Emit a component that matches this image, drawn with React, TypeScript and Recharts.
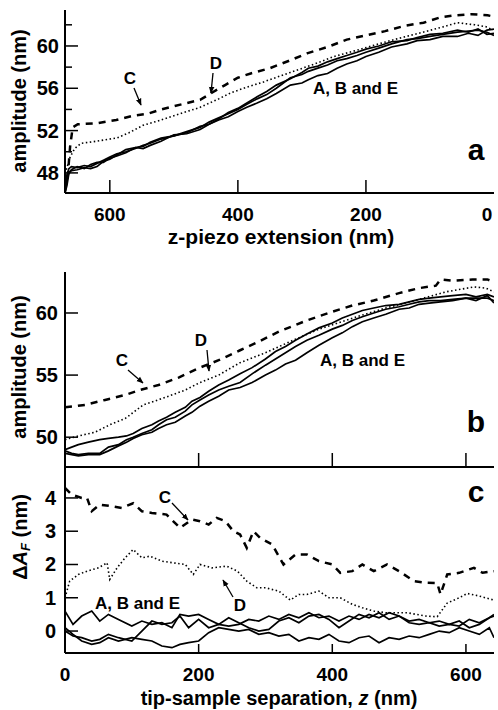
import { LineChart, Line, XAxis, YAxis } from "recharts"

const FONT = '"Liberation Sans", Arial, Helvetica, sans-serif'

// panel a: amplitude vs z-piezo extension (nm)
const aDashX = [666, 662, 658, 650, 620, 590, 564, 540, 520, 500, 480, 459, 440, 420, 400, 380, 350, 320, 292, 260, 230, 200, 170, 140, 110, 84, 60, 35, 10, 2]
const aDashY = [47.5, 50.5, 52.3, 52.6, 52.7, 53.0, 53.4, 53.6, 54.0, 54.3, 54.6, 54.9, 55.6, 56.3, 57.0, 57.4, 57.9, 58.6, 59.3, 59.9, 60.6, 61.0, 61.4, 61.9, 62.2, 62.7, 62.9, 63.0, 62.9, 62.8]
const aDotX = [668, 662, 655, 645, 620, 600, 589, 570, 548, 520, 490, 459, 430, 410, 386, 360, 318, 280, 250, 214, 180, 150, 111, 80, 57, 30, 11, 2]
const aDotY = [48.3, 49.5, 50.3, 50.8, 51.0, 51.2, 51.3, 51.8, 52.5, 53.0, 53.6, 54.2, 55.0, 55.6, 56.1, 56.6, 57.5, 58.3, 59.0, 59.6, 60.2, 60.7, 61.3, 61.8, 62.2, 62.0, 61.8, 61.5]
const aSolidX = [670, 667, 664, 660, 651, 640, 630, 620, 610, 600, 589, 575, 560, 548, 537, 520, 500, 480, 459, 445, 430, 415, 400, 386, 370, 355, 340, 318, 300, 290, 275, 260, 245, 230, 214, 200, 180, 160, 136, 120, 100, 80, 57, 40, 25, 11, 0]
const aSolidA = [46.1, 47.8, 48.4, 48.6, 48.5, 48.7, 48.6, 48.9, 49.2, 49.5, 49.8, 50.0, 50.3, 50.6, 50.8, 51.2, 51.5, 51.9, 52.3, 52.8, 53.2, 53.6, 54.0, 54.5, 55.0, 55.4, 56.0, 57.0, 57.3, 57.6, 57.9, 58.2, 58.6, 58.8, 59.1, 59.4, 59.8, 60.2, 60.6, 60.7, 60.9, 61.1, 61.3, 61.4, 61.5, 61.3, 61.0]
const aSolidB = [46.1, 46.8, 47.9, 48.3, 48.6, 48.4, 48.8, 49.0, 49.0, 49.4, 49.6, 49.9, 50.4, 50.3, 50.6, 51.0, 51.6, 51.7, 52.1, 52.6, 53.0, 53.3, 53.8, 54.2, 54.6, 55.0, 55.5, 56.3, 56.5, 56.8, 57.2, 57.4, 57.9, 58.3, 58.6, 59.0, 59.4, 59.9, 60.2, 60.5, 60.6, 60.9, 60.9, 61.2, 61.0, 61.5, 61.6]
const aSolidE = [46.1, 47.2, 48.1, 48.2, 48.3, 48.5, 48.4, 48.6, 49.1, 49.3, 49.7, 50.2, 50.4, 50.5, 50.9, 51.3, 51.5, 51.8, 52.4, 52.6, 53.1, 53.7, 54.1, 54.6, 55.2, 55.7, 56.3, 56.9, 57.5, 57.9, 58.1, 58.5, 58.8, 59.1, 59.4, 59.7, 60.0, 60.4, 60.5, 60.8, 61.1, 61.2, 61.5, 61.3, 61.6, 61.1, 61.2]

// panel b: amplitude vs tip-sample separation (nm)
const bDashX = [0, 30, 60, 90, 112, 140, 170, 202, 230, 262, 290, 320, 362, 400, 430, 462, 500, 530, 555, 562, 580, 610, 632, 642]
const bDashY = [52.4, 52.6, 53.0, 53.4, 53.8, 54.2, 54.8, 55.6, 56.2, 57.0, 57.7, 58.5, 59.4, 60.1, 60.6, 61.0, 61.6, 62.0, 62.2, 62.7, 62.6, 62.7, 62.7, 62.5]
const bDotX = [0, 20, 45, 67, 90, 117, 150, 180, 202, 230, 262, 300, 337, 380, 437, 480, 537, 570, 612, 630, 642]
const bDotY = [49.8, 50.1, 50.4, 51.0, 51.5, 52.6, 53.2, 53.8, 54.4, 55.0, 56.0, 56.8, 57.7, 58.7, 59.7, 60.4, 61.2, 61.7, 62.1, 62.0, 61.7]
const bSolidX = [0, 10, 20, 35, 52, 65, 80, 92, 102, 115, 130, 140, 152, 165, 180, 190, 202, 215, 230, 245, 262, 280, 300, 315, 330, 345, 362, 380, 400, 415, 430, 445, 462, 480, 500, 515, 530, 545, 562, 580, 600, 615, 632, 642]
const bSolidA = [48.9, 48.7, 48.6, 48.7, 48.7, 49.2, 49.4, 49.8, 50.0, 50.3, 50.6, 51.0, 51.4, 51.6, 52.1, 52.6, 53.0, 53.4, 53.8, 54.1, 54.4, 55.1, 55.8, 56.3, 56.8, 57.3, 57.8, 58.2, 58.7, 59.0, 59.4, 59.7, 60.0, 60.3, 60.5, 60.7, 60.9, 61.0, 61.0, 61.1, 61.2, 61.2, 61.2, 61.0]
const bSolidB = [49.0, 49.2, 49.4, 49.6, 49.8, 49.9, 50.0, 50.1, 50.3, 50.7, 51.0, 51.3, 51.6, 52.0, 52.4, 52.9, 53.2, 53.7, 54.2, 54.6, 55.1, 55.6, 56.3, 56.9, 57.3, 57.8, 58.3, 58.8, 59.2, 59.6, 59.9, 60.2, 60.4, 60.6, 60.7, 60.9, 61.1, 61.2, 61.3, 61.4, 61.5, 61.3, 61.5, 61.3]
const bSolidE = [48.7, 48.6, 48.5, 48.6, 48.6, 48.9, 49.3, 49.6, 49.9, 50.2, 50.4, 50.7, 51.0, 51.2, 51.7, 52.0, 52.5, 52.9, 53.3, 53.8, 54.0, 54.4, 55.0, 55.4, 55.9, 56.2, 56.8, 57.4, 58.0, 58.4, 58.9, 59.3, 59.6, 59.9, 60.3, 60.4, 60.7, 60.8, 60.9, 61.0, 61.2, 61.0, 61.4, 60.8]

// panel c: delta A_F vs tip-sample separation (nm)
const cDashX = [0, 10, 25, 33, 40, 52, 70, 85, 102, 115, 130, 152, 172, 190, 202, 215, 227, 240, 252, 262, 272, 282, 292, 310, 327, 345, 362, 380, 400, 412, 430, 445, 462, 482, 500, 522, 540, 557, 562, 572, 590, 612, 625, 642]
const cDashY = [4.3, 4.1, 4.0, 4.0, 3.6, 3.8, 3.75, 3.7, 3.84, 3.6, 3.55, 3.5, 3.1, 3.35, 3.3, 3.2, 3.4, 3.3, 3.0, 2.9, 2.5, 3.0, 2.8, 2.6, 2.0, 2.3, 2.3, 2.1, 2.0, 1.75, 1.8, 2.0, 1.8, 2.0, 1.8, 1.5, 1.45, 1.44, 1.1, 1.7, 1.75, 1.9, 1.75, 1.8]
const cDotX = [0, 7, 20, 33, 50, 63, 67, 78, 90, 102, 115, 127, 145, 162, 180, 192, 202, 220, 242, 258, 272, 287, 300, 320, 337, 350, 362, 380, 395, 412, 430, 445, 462, 480, 512, 540, 557, 572, 590, 602, 620, 642]
const cDotY = [1.0, 1.5, 1.7, 1.8, 1.9, 2.05, 1.55, 1.9, 2.2, 2.45, 2.2, 2.25, 2.1, 2.05, 2.0, 1.7, 2.0, 1.9, 1.95, 1.8, 1.5, 1.3, 1.3, 1.2, 0.93, 1.1, 1.1, 1.2, 1.0, 1.0, 0.8, 0.7, 0.6, 0.55, 0.55, 0.45, 0.43, 0.84, 1.0, 1.13, 1.05, 0.93]
const cSolidX = [0, 12, 25, 40, 52, 65, 80, 100, 115, 130, 145, 160, 172, 185, 200, 215, 230, 245, 260, 275, 290, 305, 320, 335, 350, 365, 380, 395, 410, 425, 440, 455, 470, 485, 500, 515, 530, 545, 560, 575, 590, 605, 620, 635, 642]
const cSolidA = [0.6, 0.2, 0.45, 0.6, 0.3, 0.5, 0.35, 0.15, 0.3, 0.2, 0.25, 0.1, 0.5, 0.45, 0.5, 0.35, 0.2, 0.15, 0.2, 0.35, 0.3, 0.45, 0.35, 0.5, 0.4, 0.55, 0.4, 0.45, 0.3, 0.45, 0.35, 0.5, 0.4, 0.55, 0.45, 0.3, 0.35, 0.25, 0.3, 0.2, 0.3, 0.1, 0.2, 0.4, 0.45]
const cSolidB = [0.0, -0.15, -0.2, -0.3, -0.25, -0.1, -0.2, -0.3, 0.0, 0.3, 0.2, 0.25, 0.45, 0.1, 0.35, 0.1, 0.2, 0.4, 0.25, 0.1, 0.0, 0.05, 0.3, 0.4, 0.25, 0.45, 0.5, 0.35, 0.1, 0.3, 0.5, 0.4, 0.55, 0.35, 0.45, 0.25, 0.2, 0.25, 0.15, 0.2, 0.15, 0.35, 0.25, 0.4, 0.5]
const cSolidE = [0.1, -0.1, -0.3, -0.4, -0.35, -0.2, -0.3, -0.2, -0.25, -0.3, -0.45, -0.5, -0.4, -0.35, -0.3, -0.05, 0.1, 0.05, 0.0, 0.05, -0.1, -0.05, -0.15, -0.1, -0.3, -0.2, -0.25, -0.1, -0.3, -0.35, -0.2, -0.15, -0.35, -0.2, -0.25, -0.15, -0.2, -0.1, 0.0, -0.05, 0.1, 0.0, -0.1, 0.1, -0.2]

const zip = (xs: number[], ys: number[]) => xs.map((x, i) => ({ x, y: ys[i] }))

const solidStyle = { stroke: "#000", strokeWidth: 1.7 }
const dashStyle = { stroke: "#000", strokeWidth: 2.5, strokeDasharray: "7 6" }
const dotStyle = { stroke: "#000", strokeWidth: 1.6, strokeDasharray: "1.5 2.5" }
const axisLine = { stroke: "#000", strokeWidth: 2 }

const yTick = (majors: number[], offset: number) => (p: any) => {
  const major = majors.includes(p.payload.value)
  return (
    <g>
      <line x1={p.x} x2={p.x + (major ? 13 : 7)} y1={p.y} y2={p.y} stroke="#000" strokeWidth={1.5} />
      {major && (
        <text x={p.x - offset} y={p.y} textAnchor="end" dominantBaseline="central"
          fontFamily={FONT} fontWeight="bold" fontSize={20} fill="#000">{p.payload.value}</text>
      )}
    </g>
  )
}

const xTick = (len: number, labels: boolean, dy: number) => (p: any) => {
  const v = p.payload.value
  return (
    <g>
      {v > 0 && v < 640 && <line x1={p.x} x2={p.x} y1={p.y} y2={p.y - len} stroke="#000" strokeWidth={1.5} />}
      {labels && (
        <text x={Math.min(p.x, 487)} y={p.y + dy} textAnchor="middle" dominantBaseline="central"
          fontFamily={FONT} fontWeight="bold" fontSize={19} fill="#000">{v}</text>
      )}
    </g>
  )
}

const Arrow = ({ x1, y1, x2, y2 }: { x1: number; y1: number; x2: number; y2: number }) => (
  <line x1={x1} y1={y1} x2={x2} y2={y2} stroke="#000" strokeWidth={1.3} markerEnd="url(#head)" />
)

const txt = { fontFamily: FONT, fontWeight: "bold" as const, fill: "#000" }

export default function App() {
  return (
    <div style={{ position: "absolute", left: 0, top: 0, width: 498, height: 710, background: "#fff" }}>
      <div style={{ position: "absolute", left: 0, top: 0 }}>
        <LineChart width={498} height={250} margin={{ top: 10, right: 4, left: 15, bottom: 17 }}>
          <XAxis dataKey="x" type="number" domain={[0, 670]} reversed allowDataOverflow height={40}
            ticks={[0, 200, 400, 600]} interval={0} tickSize={0} tickMargin={0} tickLine={false}
            axisLine={axisLine} tick={xTick(13, true, 21)} />
          <YAxis type="number" domain={[46.1, 63.4]} allowDataOverflow width={50}
            ticks={[48, 50, 52, 54, 56, 58, 60, 62]} interval={0} tickSize={0} tickMargin={0} tickLine={false}
            axisLine={axisLine} tick={yTick([48, 52, 56, 60], 6)} />
          <Line data={zip(aDashX, aDashY)} dataKey="y" type="linear" dot={false} activeDot={false} isAnimationActive={false} {...dashStyle} />
          <Line data={zip(aDotX, aDotY)} dataKey="y" type="linear" dot={false} activeDot={false} isAnimationActive={false} {...dotStyle} />
          <Line data={zip(aSolidX, aSolidA)} dataKey="y" type="linear" dot={false} activeDot={false} isAnimationActive={false} {...solidStyle} />
          <Line data={zip(aSolidX, aSolidB)} dataKey="y" type="linear" dot={false} activeDot={false} isAnimationActive={false} {...solidStyle} />
          <Line data={zip(aSolidX, aSolidE)} dataKey="y" type="linear" dot={false} activeDot={false} isAnimationActive={false} {...solidStyle} />
        </LineChart>
      </div>
      <div style={{ position: "absolute", left: 0, top: 260 }}>
        <LineChart width={498} height={220} margin={{ top: 12, right: 4, left: 15, bottom: 0 }}>
          <XAxis dataKey="x" type="number" domain={[0, 642]} allowDataOverflow height={13}
            ticks={[0, 200, 400, 600]} interval={0} tickSize={0} tickMargin={0} tickLine={false}
            axisLine={axisLine} tick={xTick(14, false, 0)} />
          <YAxis type="number" domain={[47.6, 63.3]} allowDataOverflow width={50}
            ticks={[50, 55, 60]} interval={0} tickSize={0} tickMargin={0} tickLine={false}
            axisLine={axisLine} tick={yTick([50, 55, 60], 7)} />
          <Line data={zip(bDashX, bDashY)} dataKey="y" type="linear" dot={false} activeDot={false} isAnimationActive={false} {...dashStyle} />
          <Line data={zip(bDotX, bDotY)} dataKey="y" type="linear" dot={false} activeDot={false} isAnimationActive={false} {...dotStyle} />
          <Line data={zip(bSolidX, bSolidA)} dataKey="y" type="linear" dot={false} activeDot={false} isAnimationActive={false} {...solidStyle} />
          <Line data={zip(bSolidX, bSolidB)} dataKey="y" type="linear" dot={false} activeDot={false} isAnimationActive={false} {...solidStyle} />
          <Line data={zip(bSolidX, bSolidE)} dataKey="y" type="linear" dot={false} activeDot={false} isAnimationActive={false} {...solidStyle} />
        </LineChart>
      </div>
      <div style={{ position: "absolute", left: 0, top: 460 }}>
        <LineChart width={498} height={250} margin={{ top: 7, right: 4, left: 15, bottom: 0 }}>
          <XAxis dataKey="x" type="number" domain={[0, 642]} allowDataOverflow height={57}
            ticks={[0, 200, 400, 600]} interval={0} tickSize={0} tickMargin={0} tickLine={false}
            axisLine={axisLine} tick={xTick(9, true, 21)} />
          <YAxis type="number" domain={[-0.66, 4.93]} allowDataOverflow width={50}
            ticks={[0, 1, 2, 3, 4]} interval={0} tickSize={0} tickMargin={0} tickLine={false}
            axisLine={axisLine} tick={yTick([0, 1, 2, 3, 4], 9)} />
          <Line data={zip(cDashX, cDashY)} dataKey="y" type="linear" dot={false} activeDot={false} isAnimationActive={false} {...dashStyle} />
          <Line data={zip(cDotX, cDotY)} dataKey="y" type="linear" dot={false} activeDot={false} isAnimationActive={false} {...dotStyle} />
          <Line data={zip(cSolidX, cSolidA)} dataKey="y" type="linear" dot={false} activeDot={false} isAnimationActive={false} {...solidStyle} />
          <Line data={zip(cSolidX, cSolidB)} dataKey="y" type="linear" dot={false} activeDot={false} isAnimationActive={false} {...solidStyle} />
          <Line data={zip(cSolidX, cSolidE)} dataKey="y" type="linear" dot={false} activeDot={false} isAnimationActive={false} {...solidStyle} />
        </LineChart>
      </div>
      <svg width={498} height={710} style={{ position: "absolute", left: 0, top: 0, pointerEvents: "none" }}>
        <defs>
          <marker id="head" viewBox="0 0 10 10" refX="9" refY="5" markerWidth="7" markerHeight="7" orient="auto" markerUnits="userSpaceOnUse">
            <path d="M0,1 L10,5 L0,9 Z" fill="#000" />
          </marker>
        </defs>
        {/* axis titles */}
        <text {...txt} fontSize={20} textAnchor="middle" dominantBaseline="central" transform="translate(19,101) rotate(-90)">amplitude (nm)</text>
        <text {...txt} fontSize={20} textAnchor="middle" dominantBaseline="central" transform="translate(19,367) rotate(-90)">amplitude (nm)</text>
        <text {...txt} fontSize={20} textAnchor="middle" dominantBaseline="central" transform="translate(20,537) rotate(-90)">
          {"\u0394"}<tspan fontStyle="italic">A</tspan><tspan fontStyle="italic" fontSize={13} dy={5}>F</tspan><tspan dy={-5}> (nm)</tspan>
        </text>
        <text {...txt} fontSize={21} textAnchor="middle" x={281} y={244}>z-piezo extension (nm)</text>
        <text {...txt} fontSize={20} textAnchor="middle" x={279} y={705}>tip-sample separation, <tspan fontStyle="italic">z</tspan> (nm)</text>
        {/* panel letters */}
        <text {...txt} fontSize={30} textAnchor="middle" x={476} y={160}>a</text>
        <text {...txt} fontSize={30} textAnchor="middle" x={476} y={432}>b</text>
        <text {...txt} fontSize={30} textAnchor="middle" x={476} y={502}>c</text>
        {/* annotations panel a */}
        <text {...txt} fontSize={17} textAnchor="middle" dominantBaseline="central" x={130} y={78}>C</text>
        <Arrow x1={134} y1={88} x2={141} y2={105} />
        <text {...txt} fontSize={17} textAnchor="middle" dominantBaseline="central" x={216} y={63}>D</text>
        <Arrow x1={213} y1={73} x2={211} y2={93} />
        <text {...txt} fontSize={17} x={313} y={94}>A, B and E</text>
        {/* annotations panel b */}
        <text {...txt} fontSize={17} textAnchor="middle" dominantBaseline="central" x={122} y={360}>C</text>
        <Arrow x1={128} y1={370} x2={143} y2={383} />
        <text {...txt} fontSize={17} textAnchor="middle" dominantBaseline="central" x={201} y={340}>D</text>
        <Arrow x1={207} y1={350} x2={209} y2={371} />
        <text {...txt} fontSize={17} x={320} y={366}>A, B and E</text>
        {/* annotations panel c */}
        <text {...txt} fontSize={17} textAnchor="middle" dominantBaseline="central" x={165} y={497}>C</text>
        <Arrow x1={172} y1={503} x2={188} y2={520} />
        <text {...txt} fontSize={17} textAnchor="middle" dominantBaseline="central" x={240} y={605}>D</text>
        <Arrow x1={233} y1={597} x2={223} y2={580} />
        <text {...txt} fontSize={17} x={95} y={609}>A, B and E</text>
      </svg>
    </div>
  )
}
